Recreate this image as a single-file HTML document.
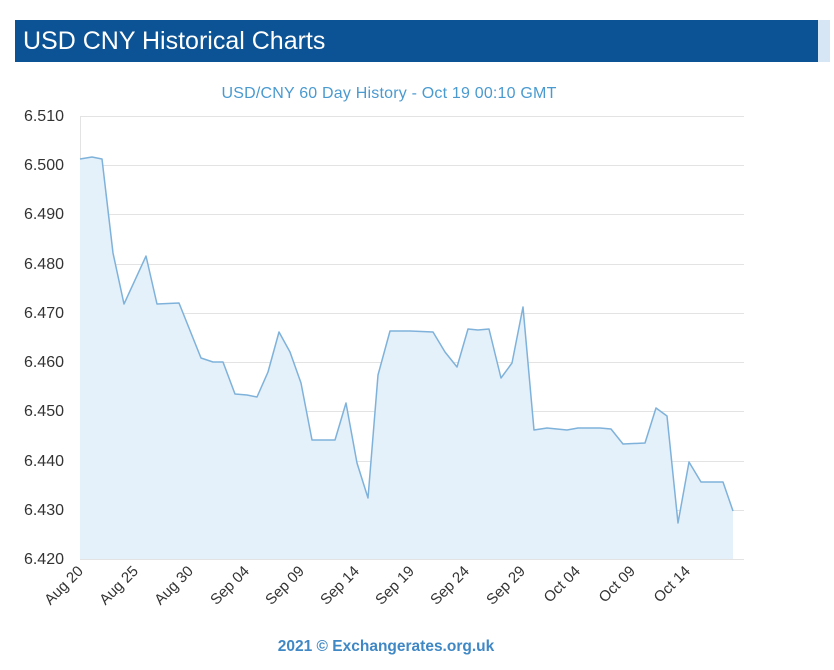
<!DOCTYPE html>
<html><head><meta charset="utf-8"><style>
body{margin:0;background:#fff;width:834px;height:670px;overflow:hidden;font-family:"Liberation Sans",sans-serif}
</style></head><body>
<div style="position:absolute;left:15px;top:20px;width:803px;height:42px;background:#0b5394"></div>
<div style="position:absolute;left:818px;top:20px;width:12px;height:42px;background:#d6e6f4"></div>
<div style="position:absolute;left:23px;top:25px;color:#fff;font-size:25px;line-height:32px">USD CNY Historical Charts</div>
<svg width="834" height="670" style="position:absolute;left:0;top:0" font-family="Liberation Sans, sans-serif">
<text x="389" y="98" text-anchor="middle" font-size="16" letter-spacing="0.2" fill="#4a9ad0">USD/CNY 60 Day History - Oct 19 00:10 GMT</text>
<g stroke="#e3e3e3" stroke-width="1">
<line x1="80" x2="744" y1="116.5" y2="116.5"/><line x1="80" x2="744" y1="165.5" y2="165.5"/><line x1="80" x2="744" y1="214.5" y2="214.5"/><line x1="80" x2="744" y1="264.5" y2="264.5"/><line x1="80" x2="744" y1="313.5" y2="313.5"/><line x1="80" x2="744" y1="362.5" y2="362.5"/><line x1="80" x2="744" y1="411.5" y2="411.5"/><line x1="80" x2="744" y1="461.5" y2="461.5"/><line x1="80" x2="744" y1="510.5" y2="510.5"/><line x1="80" x2="744" y1="559.5" y2="559.5"/>
<line x1="80.5" x2="80.5" y1="116" y2="560"/>
</g>
<g font-size="16" fill="#333" text-anchor="end">
<text x="64" y="121">6.510</text><text x="64" y="170">6.500</text><text x="64" y="219">6.490</text><text x="64" y="269">6.480</text><text x="64" y="318">6.470</text><text x="64" y="367">6.460</text><text x="64" y="416">6.450</text><text x="64" y="466">6.440</text><text x="64" y="515">6.430</text><text x="64" y="564">6.420</text>
</g>
<polygon fill="#e4f0fa" points="80,159 92,157 102,159 113,253 124,304 135,280 146,256 157,304 179,303 201,358 213,362 223,362 235,394 247,395 257,397 268,372 279,332 290,352 301,383 312,440 335,440 346,403 357,463 368,498 378,375 390,331 410,331 433,332 445,352 457,367 468,329 478,330 489,329 501,378 512,363 523,307 534,430 547,428 567,430 578,428 600,428 611,429 623,444 645,443 656,408 667,416 678,523 689,462 701,482 723,482 733,511 733,559 80,559"/>
<polyline fill="none" stroke="#7fb2da" stroke-width="1.5" stroke-linejoin="round" points="80,159 92,157 102,159 113,253 124,304 135,280 146,256 157,304 179,303 201,358 213,362 223,362 235,394 247,395 257,397 268,372 279,332 290,352 301,383 312,440 335,440 346,403 357,463 368,498 378,375 390,331 410,331 433,332 445,352 457,367 468,329 478,330 489,329 501,378 512,363 523,307 534,430 547,428 567,430 578,428 600,428 611,429 623,444 645,443 656,408 667,416 678,523 689,462 701,482 723,482 733,511"/>
<g font-size="15" fill="#333" text-anchor="end">
<text transform="translate(84,572) rotate(-45)">Aug 20</text>
<text transform="translate(139,572) rotate(-45)">Aug 25</text>
<text transform="translate(194,572) rotate(-45)">Aug 30</text>
<text transform="translate(250,572) rotate(-45)">Sep 04</text>
<text transform="translate(305,572) rotate(-45)">Sep 09</text>
<text transform="translate(360,572) rotate(-45)">Sep 14</text>
<text transform="translate(415,572) rotate(-45)">Sep 19</text>
<text transform="translate(470,572) rotate(-45)">Sep 24</text>
<text transform="translate(526,572) rotate(-45)">Sep 29</text>
<text transform="translate(581,572) rotate(-45)">Oct 04</text>
<text transform="translate(636,572) rotate(-45)">Oct 09</text>
<text transform="translate(691,572) rotate(-45)">Oct 14</text>
</g>
<text x="386" y="651" text-anchor="middle" font-size="15.5" font-weight="bold" fill="#3f88c5">2021 © Exchangerates.org.uk</text>
</svg>
</body></html>
